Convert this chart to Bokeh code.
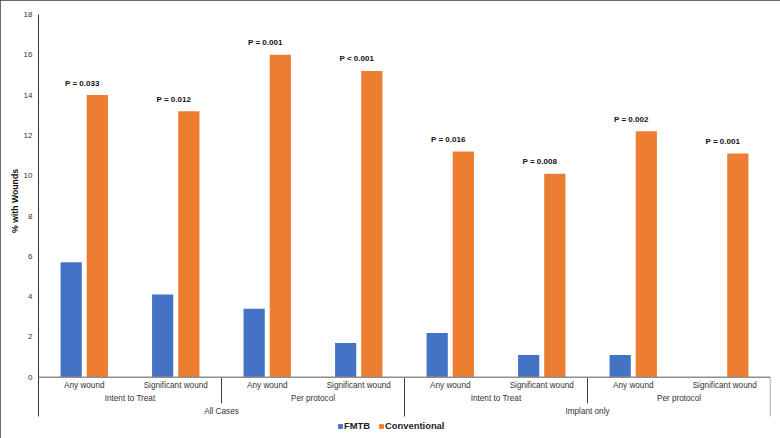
from bokeh.plotting import figure
from bokeh.models import (FactorRange, Range1d, ColumnDataSource, FixedTicker, Span,
                          Legend, LegendItem, Title)
from bokeh.transform import dodge
from bokeh.core.properties import value
from bokeh.embed import file_html
from bokeh.resources import INLINE

# ---- data ----
populations = ["All Cases"] * 4 + ["Implant only"] * 4
analyses = ["Intent to Treat", "Intent to Treat", "Per protocol", "Per protocol"] * 2
outcomes = ["Any wound", "Significant wound"] * 4
fmtb = [5.7, 4.1, 3.4, 1.7, 2.2, 1.1, 1.1, 0.0]
conventional = [14.0, 13.2, 16.0, 15.2, 11.2, 10.1, 12.2, 11.1]
p_values = ["P = 0.033", "P = 0.012", "P = 0.001", "P < 0.001",
            "P = 0.016", "P = 0.008", "P = 0.002", "P = 0.001"]
y_ticks = [0, 2, 4, 6, 8, 10, 12, 14, 16, 18]
series_names = ["FMTB", "Conventional"]
y_title = "% with Wounds"

# ---- styles ----
FONT = "Liberation Sans"
BLUE = "#4472C4"
ORANGE = "#ED7D31"
TEXT = "#333333"
AXIS_BOTTOM = -1.95   # where the category separators end
SHORT_SEP = -1.29

factors = list(zip(populations, analyses, outcomes))
src = ColumnDataSource(dict(x=factors, fmtb=fmtb, conv=conventional, p=p_values))

p = figure(width=780, height=438,
           x_range=FactorRange(*factors, factor_padding=0, subgroup_padding=0,
                               group_padding=0, range_padding=0),
           y_range=Range1d(-2.744, max(y_ticks)),
           output_backend="svg", toolbar_location=None, x_axis_location=None,
           min_border_left=37, min_border_right=10, min_border_top=14, min_border_bottom=6)
p.grid.visible = False
p.outline_line_color = None
p.background_fill_color = "white"
p.border_fill_color = "white"
p.styles = {"outline": "2px solid #3a3a3a", "outline-offset": "-2px"}

ya = p.yaxis[0]
ya.ticker = FixedTicker(ticks=y_ticks)
ya.bounds = (AXIS_BOTTOM, max(y_ticks))
ya.major_tick_line_color = None
ya.minor_tick_line_color = None
ya.major_tick_out = 0
ya.major_tick_in = 0
ya.minor_tick_out = 0
ya.axis_line_color = "#333333"
ya.axis_line_width = 1
ya.major_label_text_font = FONT
ya.major_label_text_font_size = "8px"
ya.major_label_text_color = TEXT
ya.major_label_standoff = 6

rb = p.vbar(x=dodge("x", -0.143, range=p.x_range), top="fmtb", width=0.232, source=src,
            fill_color=BLUE, line_color=None)
ro = p.vbar(x=dodge("x", 0.143, range=p.x_range), top="conv", width=0.232, source=src,
            fill_color=ORANGE, line_color=None)

# zero baseline
p.add_layout(Span(location=0, dimension="width", line_color="#8f8f8f", line_width=1.5))

# p-value labels
p.text(x="x", y="conv", text="p", source=src, x_offset=-2, y_offset=-12,
       text_align="center", text_baseline="middle", text_font=value(FONT),
       text_font_style="bold", text_font_size="8px", text_color="#111111")

# category labels (3 levels)
p.text(x="x", y=0, text="o", source=ColumnDataSource(dict(x=factors, o=outcomes)),
       y_offset=8, text_align="center", text_baseline="middle", text_font=value(FONT),
       text_font_size="8.2px", text_color=TEXT)

mids = []
for pop, an in zip(populations, analyses):
    if (pop, an) not in mids:
        mids.append((pop, an))
p.text(x="x", y=0, text="t", source=ColumnDataSource(dict(x=mids, t=[m[1] for m in mids])),
       y_offset=21, text_align="center", text_baseline="middle", text_font=value(FONT),
       text_font_size="8.2px", text_color=TEXT)

tops = []
for pop in populations:
    if pop not in tops:
        tops.append(pop)
p.text(x="x", y=0, text="t", source=ColumnDataSource(dict(x=tops, t=tops)),
       y_offset=34, text_align="center", text_baseline="middle", text_font=value(FONT),
       text_font_size="8.2px", text_color=TEXT)

# separators between groups
n = len(factors)
inner_x, inner_y = [], []
for i in range(1, n):
    if populations[i] != populations[i - 1]:
        inner_x.append(i)
        inner_y.append(AXIS_BOTTOM)
    elif analyses[i] != analyses[i - 1]:
        inner_x.append(i)
        inner_y.append(SHORT_SEP)
p.segment(x0=inner_x, y0=[0] * len(inner_x), x1=inner_x, y1=inner_y,
          line_color="#404040", line_width=1)
p.segment(x0=[n], y0=[0], x1=[n], y1=[AXIS_BOTTOM], line_color="#8f8f8f", line_width=1.5)

# y axis title (plus a small spacer panel to push it toward the axis)
p.add_layout(Title(text=y_title, align="left", offset=199.5, standoff=0,
                   vertical_align="middle", text_font=FONT, text_font_style="bold",
                   text_font_size="8.7px", text_color="#111111"), "left")
p.add_layout(Title(text=" ", standoff=5, text_font_size="1px", text_color="white"), "left")

legend = Legend(items=[LegendItem(label=series_names[0], renderers=[rb]),
                       LegendItem(label=series_names[1], renderers=[ro])],
                orientation="horizontal", location=(299, 1),
                glyph_width=6, glyph_height=6, label_standoff=1, spacing=8,
                padding=0, margin=0, border_line_color=None, background_fill_alpha=0,
                label_text_font=FONT, label_text_font_style="bold",
                label_text_font_size="9.4px", label_height=10, label_text_color="#222222")
p.add_layout(legend)

open("out.html", "w").write(file_html(p, INLINE))
